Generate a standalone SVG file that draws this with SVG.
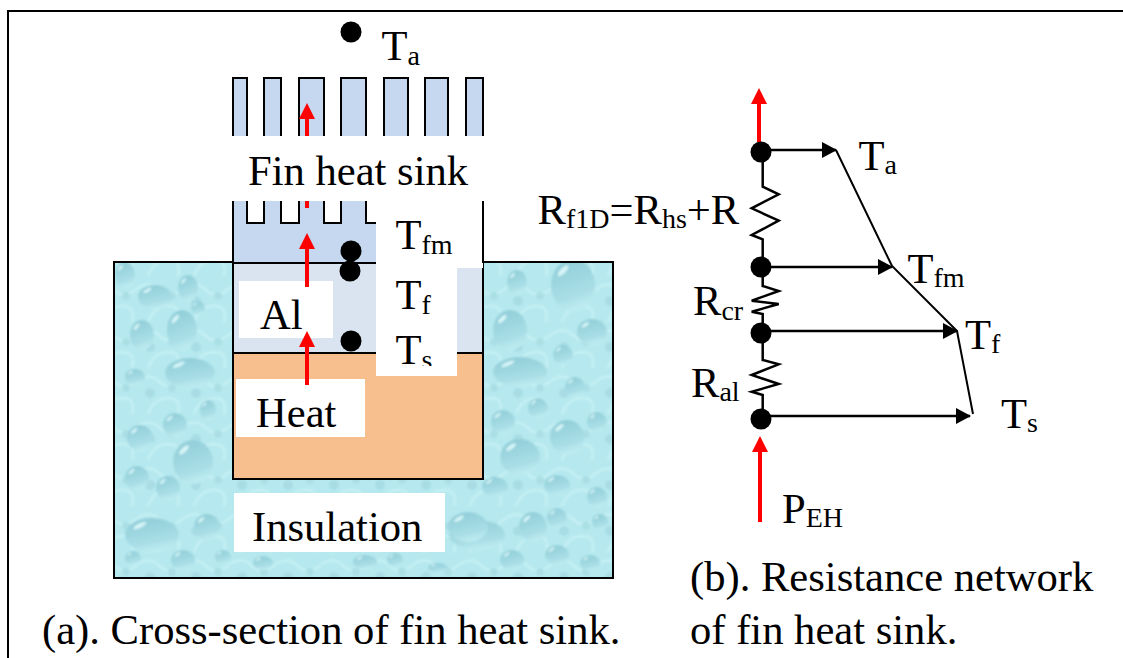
<svg xmlns="http://www.w3.org/2000/svg" width="1123" height="658" viewBox="0 0 1123 658">
<style>
text{font-family:"Liberation Serif","Times New Roman",serif;font-size:42.6px;fill:#000}
.s{font-size:28px}
.o{stroke:#000;stroke-width:2;fill:none}
.w{fill:#fff}
.k{stroke:#000;stroke-width:2.5;fill:none}
.r{stroke:#f00;stroke-width:4;fill:none}
.rh{fill:#f00}
.fin{fill:#c6d8ef;stroke:#000;stroke-width:2}
</style>
<defs>
<linearGradient id="dg" x1="0.3" y1="0" x2="0.6" y2="1">
<stop offset="0" stop-color="#90cdd8"/><stop offset="0.7" stop-color="#a9dee6"/><stop offset="1" stop-color="#c0eef3"/>
</linearGradient>
<g id="d"><ellipse rx="20" ry="20" fill="url(#dg)"/><ellipse cx="-9" cy="-11" rx="6" ry="2.200" fill="#d6f5f8" transform="rotate(-40 -9 -11)"/></g>
<pattern id="ice" width="46" height="46" patternUnits="userSpaceOnUse">
<rect width="46" height="46" fill="#b6e9ef"/>
<path d="M0 12Q12 4 22 14T46 12M10 46Q16 30 30 30T40 46" fill="none" stroke="#c8f1f5" stroke-width="2"/>
<circle cx="12" cy="25" r="5" fill="#a8dde5"/>
<circle cx="34" cy="20" r="4" fill="#aadfe6"/>
</pattern>
<clipPath id="ins"><rect x="114" y="262" width="499" height="316"/></clipPath>
<clipPath id="tsc"><rect x="376" y="320" width="81" height="46"/></clipPath>
<filter id="soft" x="0" y="0" width="1" height="1"><feGaussianBlur stdDeviation="1"/></filter>
<marker id="ah" markerWidth="16" markerHeight="16" refX="14" refY="8" orient="auto" markerUnits="userSpaceOnUse"><path d="M0 0L15 8L0 16Z"/></marker>
</defs>

<path class="o" d="M8 658V11H1123"/>

<g id="insulation">
<g clip-path="url(#ins)"><g filter="url(#soft)">
<rect x="110" y="258" width="507" height="324" fill="url(#ice)"/>
<use href="#d" transform="translate(573 285) scale(1.100 1.300)"/>
<use href="#d" transform="translate(510 330) scale(.85 1)"/>
<use href="#d" transform="translate(520 372) scale(1.350 .75)"/>
<use href="#d" transform="translate(592 332) scale(.75 .65)"/>
<use href="#d" transform="translate(563 355) scale(.5)"/>
<use href="#d" transform="translate(575 387) scale(.5)"/>
<use href="#d" transform="translate(503 422) scale(.6)"/>
<use href="#d" transform="translate(538 408) scale(.5)"/>
<use href="#d" transform="translate(520 457) scale(1 .9)"/>
<use href="#d" transform="translate(567 437) scale(.85)"/>
<use href="#d" transform="translate(597 422) scale(.5)"/>
<use href="#d" transform="translate(495 487) scale(.65 .5)"/>
<use href="#d" transform="translate(557 485) scale(.65 .5)"/>
<use href="#d" transform="translate(597 497) scale(.5)"/>
<use href="#d" transform="translate(477 535) scale(1.400 .75)"/>
<use href="#d" transform="translate(533 527) scale(.7 .75)"/>
<use href="#d" transform="translate(557 518) scale(.5)"/>
<use href="#d" transform="translate(600 522) scale(.4)"/>
<use href="#d" transform="translate(512 560) scale(.6 .5)"/>
<use href="#d" transform="translate(557 555) scale(.6 .5)"/>
<use href="#d" transform="translate(590 563) scale(.5 .4)"/>
<use href="#d" transform="translate(517 282) scale(.5 .6)"/>
<use href="#d" transform="translate(125 275) scale(.5 .65)"/>
<use href="#d" transform="translate(155 297) scale(.85 .6)"/>
<use href="#d" transform="translate(188 288) scale(.5 .65)"/>
<use href="#d" transform="translate(182 330) scale(.75 1)"/>
<use href="#d" transform="translate(142 335) scale(.6 .75)"/>
<use href="#d" transform="translate(198 308) scale(.35)"/>
<use href="#d" transform="translate(190 373) scale(1.250 .75)"/>
<use href="#d" transform="translate(135 377) scale(.5 .4)"/>
<use href="#d" transform="translate(140 438) scale(.65)"/>
<use href="#d" transform="translate(193 462) scale(1 1.100)"/>
<use href="#d" transform="translate(175 425) scale(.6)"/>
<use href="#d" transform="translate(208 410) scale(.4 .5)"/>
<use href="#d" transform="translate(137 478) scale(.6)"/>
<use href="#d" transform="translate(168 488) scale(.6)"/>
<use href="#d" transform="translate(152 535) scale(1.350 .85)"/>
<use href="#d" transform="translate(207 527) scale(.65)"/>
<use href="#d" transform="translate(183 560) scale(.6 .5)"/>
<use href="#d" transform="translate(133 558) scale(.4 .35)"/>
<use href="#d" transform="translate(223 557) scale(.4 .35)"/>
<use href="#d" transform="translate(263 563) scale(.5 .35)"/>
<use href="#d" transform="translate(365 562) scale(.6 .35)"/>
<use href="#d" transform="translate(395 560) scale(.4 .35)"/>
<use href="#d" transform="translate(438 568) scale(.5 .25)"/>
<use href="#d" transform="translate(468 527) scale(1 .75)"/>
</g></g>
<rect class="o" x="114" y="262" width="499" height="316"/>
</g>

<g id="heat-sink">
<rect class="fin" x="233" y="78" width="14" height="80"/>
<rect class="fin" x="264" y="78" width="17" height="80"/>
<rect class="fin" x="299" y="78" width="25" height="80"/>
<rect class="fin" x="341" y="78" width="25" height="80"/>
<rect class="fin" x="384" y="78" width="24" height="80"/>
<rect class="fin" x="425" y="78" width="23" height="80"/>
<rect class="fin" x="466" y="78" width="17" height="80"/>
<path class="fin" d="M233 190H247V223H264V190H281V223H299V190H324V223H341V190H366V223H384V190H483V263H233Z"/>
</g>
<g id="al"><rect x="233" y="263" width="250" height="90" class="o" style="fill:#dae3f0"/></g>
<g id="heater"><rect x="233" y="353" width="250" height="126" class="o" style="fill:#f8bf8e"/></g>

<g id="arrow-top-back"><path class="r" d="M307 208V180"/></g>
<g id="labels-left">
<rect class="w" x="232" y="136" width="252" height="65"/>
<rect class="w" x="376" y="201" width="107" height="67"/>
<rect class="w" x="376" y="268" width="81" height="108"/>
<path d="M483 201V263" stroke="#000" stroke-width="2"/>
<rect class="w" x="239" y="281" width="94" height="57"/>
<rect class="w" x="236" y="379" width="129" height="58"/>
<rect class="w" x="234" y="493" width="211" height="59"/>
<text x="248" y="185">Fin heat sink</text>
<text x="260" y="329">Al</text>
<text x="256" y="427">Heat</text>
<text x="252" y="541">Insulation</text>
<text x="381.500" y="60">T<tspan class="s" dy="4.500">a</tspan></text>
<text x="395.500" y="249">T<tspan class="s" dy="4.500">fm</tspan></text>
<text x="395.500" y="309">T<tspan class="s" dy="4.500">f</tspan></text>
<text x="395.500" y="364" clip-path="url(#tsc)">T<tspan class="s" dy="4.500">s</tspan></text>
</g>

<g id="dots-left">
<circle cx="351" cy="32" r="10.500"/>
<circle cx="351" cy="251" r="10.500"/>
<circle cx="350" cy="271" r="10.500"/>
<circle cx="351" cy="341" r="10.500"/>
</g>

<g id="connectors">
<path class="r" d="M307 136V116"/><path class="rh" d="M307 103L315 119H299Z"/>
<path class="r" d="M307 287V246"/><path class="rh" d="M307 233L315 249H299Z"/>
<path class="r" d="M307 385V344"/><path class="rh" d="M307 331L315 347H299Z"/>
<path class="r" d="M759 142V102"/><path class="rh" d="M759 88L767 104H751Z"/>
<path class="r" d="M760 522V450"/><path class="rh" d="M760 436L768 452H752Z"/>
<path class="k" d="M762.700 152V186.700L778.700 194.300L751.700 208.300L778.700 220.700L751.700 235L762.700 239.300V286L778.700 291L751.700 300.700L778.700 304L751.700 311.700L762.700 314V360L778.700 364.300L751.700 375L778.700 384L751.700 391.700L762.700 395V419"/>
<path class="k" d="M762 150H836" marker-end="url(#ah)"/>
<path class="k" d="M762 267H892" marker-end="url(#ah)"/>
<path class="k" d="M762 331H957" marker-end="url(#ah)"/>
<path class="k" d="M762 416H970" marker-end="url(#ah)"/>
<path d="M836 150L892 266L957 331L973 414" fill="none" stroke="#000" stroke-width="2"/>
</g>

<g id="dots-right">
<circle cx="761" cy="152" r="10.500"/>
<circle cx="761" cy="267" r="10.500"/>
<circle cx="761" cy="333" r="10.500"/>
<circle cx="761" cy="419" r="10.500"/>
</g>

<g id="labels-right">
<text x="858.500" y="170">T<tspan class="s" dy="4">a</tspan></text>
<text x="907.500" y="283">T<tspan class="s" dy="4">fm</tspan></text>
<text x="965" y="349">T<tspan class="s" dy="4">f</tspan></text>
<text x="1001" y="428">T<tspan class="s" dy="4">s</tspan></text>
<text x="537.500" y="224">R<tspan class="s" dy="4">f1D</tspan><tspan dy="-4">=R</tspan><tspan class="s" dy="4">hs</tspan><tspan dy="-4">+R</tspan></text>
<text x="693" y="315">R<tspan class="s" dy="4.500">cr</tspan></text>
<text x="691" y="397">R<tspan class="s" dy="4">al</tspan></text>
<text x="782" y="523">P<tspan class="s" dy="4">EH</tspan></text>
<text x="42" y="644">(a). Cross-section of fin heat sink.</text>
<text x="690" y="591">(b). Resistance network</text>
<text x="690" y="644">of fin heat sink.</text>
</g>
</svg>
